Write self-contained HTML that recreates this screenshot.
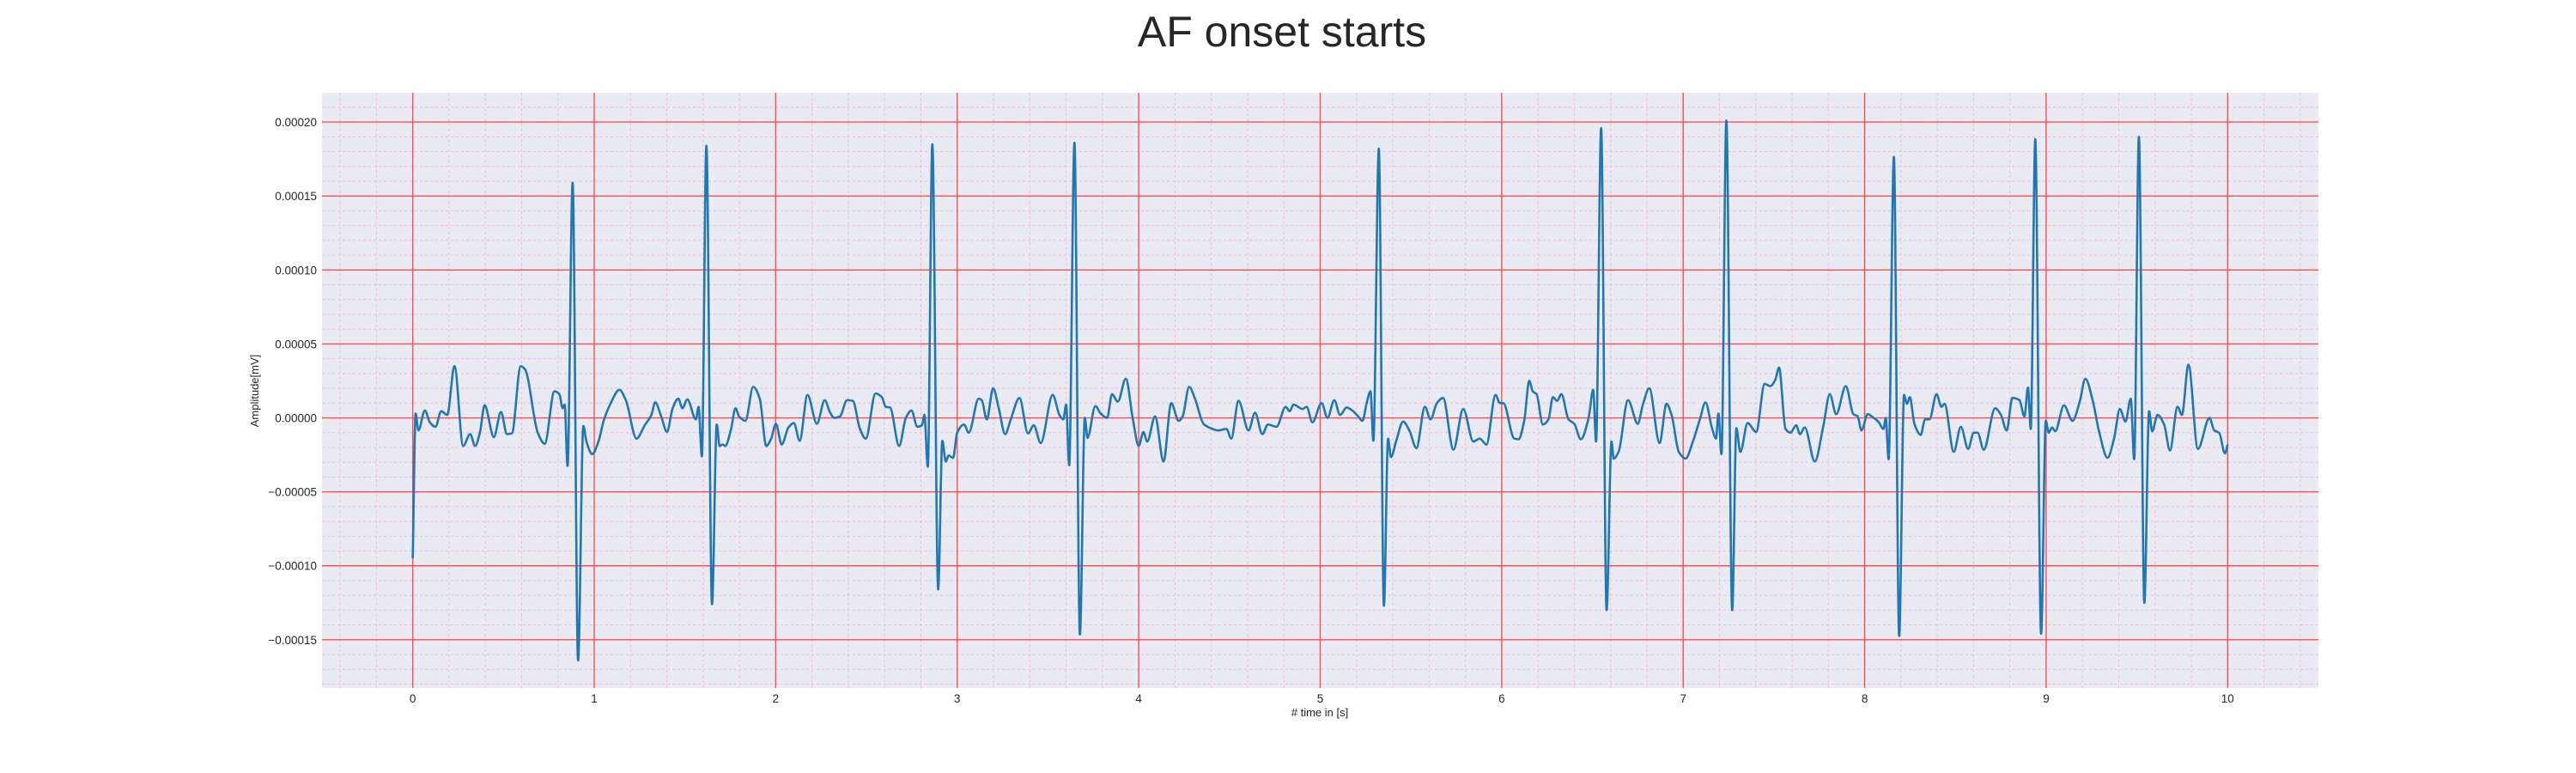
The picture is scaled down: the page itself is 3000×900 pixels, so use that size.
<!DOCTYPE html>
<html><head><meta charset="utf-8"><style>
html,body{margin:0;padding:0;background:#fff;}
svg{display:block;font-family:"Liberation Sans",Arial,sans-serif;}
</style></head><body>
<svg id="chart" width="3000" height="900" viewBox="0 0 3000 900" xmlns="http://www.w3.org/2000/svg">
<text x="1493" y="54" font-size="50" text-anchor="middle" fill="#262626">AF onset starts</text>
<rect x="375" y="108" width="2325" height="693" fill="#eaeaf2"/>
<g id="grid"></g>
<g id="ticks"></g>
<path id="ecg" fill="none" stroke="#1f77b4" stroke-width="2.6" stroke-linejoin="round"/>
<text x="1537" y="834" font-size="13" text-anchor="middle" fill="#262626"># time in [s]</text>
<text x="0" y="0" font-size="13" text-anchor="middle" fill="#262626" transform="translate(301,455) rotate(-90)">Amplitude[mV]</text>
</svg>
<script>
// time (s) and amplitude (units of 1e-5 mV)
const times = [0,0.016,0.031,0.067,0.094,0.125,0.157,0.19,0.23,0.278,0.316,0.344,0.37,0.396,0.447,0.486,0.519,0.546,0.595,0.618,0.69,0.727,0.781,0.808,0.826,0.837,0.853,0.881,0.911,0.94,0.957,0.989,1.022,1.052,1.089,1.139,1.174,1.233,1.278,1.315,1.336,1.369,1.401,1.432,1.463,1.486,1.513,1.56,1.575,1.593,1.618,1.649,
1.675,1.691,1.707,1.722,1.754,1.778,1.798,1.833,1.876,1.912,1.948,1.975,2.001,2.033,2.07,2.1,2.132,2.175,2.227,2.27,2.298,2.322,2.354,2.393,2.425,2.464,2.496,2.55,2.585,2.606,2.63,2.68,2.717,2.748,2.78,2.806,2.819,2.838,2.863,2.895,2.918,2.937,2.953,2.977,
3.0,3.037,3.064,3.118,3.135,3.163,3.198,3.229,3.264,3.295,3.343,3.39,3.422,3.46,3.526,3.565,3.585,3.6,3.617,3.646,3.676,3.703,3.718,3.761,3.79,3.826,3.853,3.885,3.929,3.968,4.0,4.026,4.047,4.09,4.137,4.179,4.22,4.242,4.278,4.31,4.357,4.397,4.436,4.483,4.51,4.55,4.605,4.641,4.681,4.712,4.759,4.81,4.831,4.854,4.902,4.925,4.957,
5.008,5.04,5.078,5.109,5.146,5.177,5.209,5.233,5.256,5.277,5.293,5.323,5.351,5.374,5.39,5.419,5.457,5.493,5.53,5.577,5.608,5.643,5.677,5.734,5.788,5.844,5.879,5.916,5.966,5.99,6.009,6.069,6.093,6.124,6.152,6.171,6.192,6.227,6.258,6.282,6.305,6.329,6.368,6.4,6.436,6.479,6.504,6.52,6.548,6.578,6.605,6.617,6.644,6.696,6.75,6.778,6.813,6.87,6.908,6.936,
6.976,7.013,7.055,7.092,7.123,7.158,7.181,7.194,7.211,7.238,7.27,7.293,7.315,7.355,7.402,7.449,7.48,7.507,7.528,7.564,7.591,7.623,7.643,7.67,7.725,7.773,7.808,7.843,7.896,7.938,7.962,7.982,8.017,8.049,8.075,8.104,8.116,8.132,8.161,8.19,8.217,8.233,8.249,8.274,8.309,8.333,8.357,8.396,8.423,8.44,8.491,8.53,8.57,8.601,8.622,8.656,8.719,8.751,8.782,8.814,8.853,8.88,8.9,8.915,8.94,
8.972,8.998,9.014,9.032,9.05,9.098,9.145,9.185,9.216,9.256,9.291,9.338,9.374,9.406,9.437,9.466,9.485,9.511,9.541,9.567,9.584,9.614,9.65,9.682,9.724,9.748,9.784,9.836,9.9,9.926,9.953,9.985,10.0];
const amps = [-9.5,0.3,-0.85,0.5,-0.3,-0.6,0.45,0.2,3.5,-1.9,-1.1,-1.9,-1.0,0.85,-1.3,0.4,-1.1,-1.05,3.5,3.3,-1.05,-1.75,1.8,1.6,0.65,0.9,-3.25,15.9,-16.4,-0.55,-1.6,-2.45,-1.65,-0.2,0.95,1.9,1.2,-1.4,-0.5,0.2,1.05,0.1,-0.95,0.65,1.3,0.65,1.25,-0.1,0.75,-2.6,18.4,-12.6,
-0.45,-1.9,-1.8,-1.9,-0.75,0.65,0.1,-0.2,2.1,1.3,-1.9,-1.4,-0.4,-1.8,-0.65,-0.35,-1.55,1.55,-0.4,1.2,0.4,0,0.1,1.2,1.15,-0.75,-1.4,1.65,1.4,0.75,0.7,-1.9,0,0.5,-0.6,-0.5,0.2,-3.3,18.5,-11.6,-1.55,-2.95,-2.55,-2.7,
-1.0,-0.45,-1.0,1.3,1.2,-0.1,2.0,0.65,-1.1,-0.1,1.35,-1.05,-0.5,-1.7,1.55,0.15,-0.1,0.9,-3.2,18.6,-14.65,0,-1.35,0.8,0.3,0,1.6,1.1,2.65,-0.1,-1.9,-0.95,-1.6,0.1,-2.95,1.0,-0.2,0.1,2.1,1.3,-0.4,-0.7,-0.85,-0.75,-1.4,1.15,-0.85,0.35,-1.1,-0.45,-0.6,0.75,0.45,0.9,0.6,0.75,-0.3,
1.0,0,1.2,0.2,0.7,0.5,0.1,-0.2,1.0,1.8,-1.55,18.2,-12.7,-1.4,-2.65,-1.55,-0.25,-0.9,-2.05,0.75,-0.1,1.0,1.35,-2.15,0.6,-1.6,-1.4,-1.8,1.55,1.0,1.0,-1.4,-1.45,-0.2,2.5,1.8,1.6,-0.45,-0.1,1.4,1.15,1.6,-0.1,-0.4,-1.45,0,1.9,-1.6,19.6,-13.0,-1.6,-2.75,-2.3,1.2,-0.4,0.9,2.0,-1.7,0.95,0.2,
-2.3,-2.75,-1.55,-0.1,1.05,-0.65,-1.4,0.3,-2.45,20.1,-13.0,-0.7,-2.3,-0.35,-0.95,2.3,2.15,2.55,3.4,-0.75,-1.0,-0.5,-1.1,-0.65,-2.95,-0.5,1.6,0.25,2.15,0.25,0.1,-0.85,0.25,0,-0.25,-0.75,0,-2.8,17.65,-14.75,1.55,0.95,1.4,-0.4,-1.15,-0.1,-0.1,1.6,0.75,0.95,-2.3,-0.6,-2.1,-1.0,-1.0,-2.15,0.65,0.2,-0.85,1.35,1.2,0.1,2.05,-0.75,18.85,
-14.6,-0.2,-1.0,-0.65,-0.9,0.85,-0.2,1.1,2.65,1.2,-0.9,-2.7,-1.4,0.6,-0.25,1.3,-2.8,19.0,-12.5,0.45,-0.9,0.2,-0.45,-2.2,0.75,0.2,3.6,-2.1,0,-0.85,-1.0,-2.4,-1.8];
const ampScale = 1e-5;
const xTicks = [0,1,2,3,4,5,6,7,8,9,10];
const yTicks = [-0.00015,-0.0001,-0.00005,0,0.00005,0.0001,0.00015,0.0002];
const yTickLabels = ["\u22120.00015","\u22120.00010","\u22120.00005","0.00000","0.00005","0.00010","0.00015","0.00020"];

const NS="http://www.w3.org/2000/svg";
const X0=375,X1=2700,Y0=108,Y1=801;
const xMin=-0.5,xMax=10.5,yMin=-0.0001826,yMax=0.0002198;
const sx=t=>X0+(t-xMin)/(xMax-xMin)*(X1-X0);
const sy=v=>Y1-(v-yMin)/(yMax-yMin)*(Y1-Y0);
function mk(tag,attrs,parent){const e=document.createElementNS(NS,tag);for(const k in attrs)e.setAttribute(k,attrs[k]);parent.appendChild(e);return e;}
const grid=document.getElementById('grid'), ticks=document.getElementById('ticks');
for(let i=-2;i<=52;i++){const t=i*0.2;if(t<xMin||t>xMax||i%5===0)continue;
 const l=mk('line',{x1:sx(t),x2:sx(t),y1:Y0,y2:Y1,stroke:'#f5b8e2','stroke-width':1,'stroke-dasharray':'3,3'},grid);
 
 }
for(let i=-18;i<=21;i++){if(i%5===0)continue;const v=i*1e-5;
 const l=mk('line',{x1:X0,x2:X1,y1:sy(v),y2:sy(v),stroke:'#f5b8e2','stroke-width':1,'stroke-dasharray':'3,3'},grid);
 
 }
xTicks.forEach(t=>{
 const l=mk('line',{x1:sx(t),x2:sx(t),y1:Y0,y2:Y1,stroke:'#ff4d4d','stroke-width':1.4},grid);
 
 
 const tx=mk('text',{x:sx(t),y:818,'font-size':13.5,'text-anchor':'middle',fill:'#262626'},ticks);tx.textContent=String(t);
 
 });
yTicks.forEach((v,i)=>{
 const l=mk('line',{x1:X0,x2:X1,y1:sy(v),y2:sy(v),stroke:'#ff4d4d','stroke-width':1.4},grid);
 
 
 const tx=mk('text',{x:369,y:sy(v)+5,'font-size':13.5,'text-anchor':'end',fill:'#262626'},ticks);tx.textContent=yTickLabels[i];
 
 });
(function(){
 const n=times.length,xs=times.map(sx),ys=amps.map(a=>sy(a*ampScale));
 const d=[],m=new Array(n);
 for(let i=0;i<n-1;i++)d.push((ys[i+1]-ys[i])/(xs[i+1]-xs[i]));
 m[0]=d[0];m[n-1]=d[n-2];
 for(let i=1;i<n-1;i++){if(d[i-1]*d[i]<=0)m[i]=0;else{const h0=xs[i]-xs[i-1],h1=xs[i+1]-xs[i];const w1=2*h1+h0,w2=h1+2*h0;m[i]=(w1+w2)/(w1/d[i-1]+w2/d[i]);}}
 let p='M'+xs[0].toFixed(2)+','+ys[0].toFixed(2);
 for(let i=0;i<n-1;i++){const h=(xs[i+1]-xs[i])/3;
  p+='C'+(xs[i]+h).toFixed(2)+','+(ys[i]+m[i]*h).toFixed(2)+' '+(xs[i+1]-h).toFixed(2)+','+(ys[i+1]-m[i+1]*h).toFixed(2)+' '+xs[i+1].toFixed(2)+','+ys[i+1].toFixed(2);}
 document.getElementById('ecg').setAttribute('d',p);
})();
</script>
</body></html>
